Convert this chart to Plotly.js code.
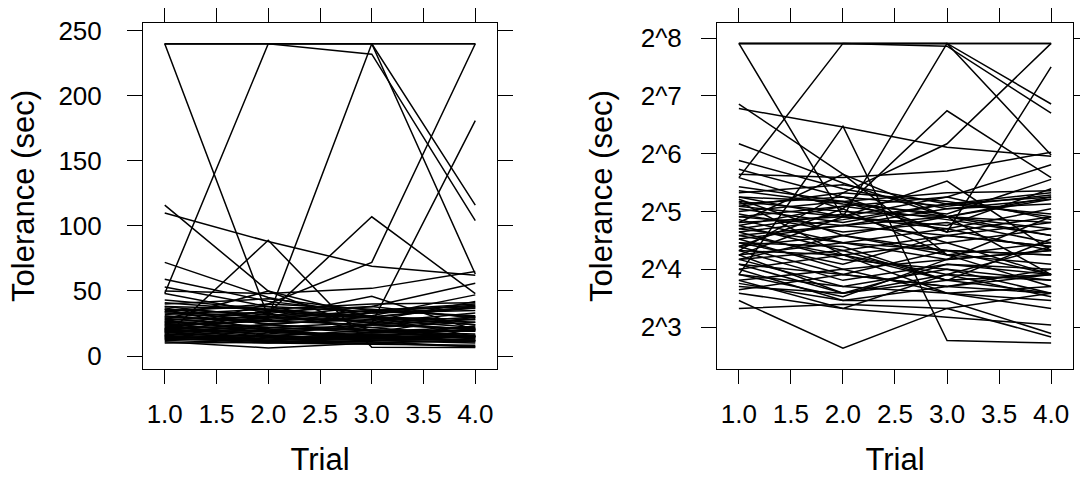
<!DOCTYPE html>
<html>
<head>
<meta charset="utf-8">
<script src="https://cdn.plot.ly/plotly-3.0.1.min.js"></script>
<style>html,body{margin:0;padding:0;background:#fff;}#chart{width:1080px;height:479px;}</style>
</head>
<body>
<div id="chart"></div>
<script>
// Trial numbers
var trials = [1, 2, 3, 4];
// Tolerance (sec) per subject at each trial
var trial1 = [240, 240, 240, 48, 240, 110, 15, 116, 72, 59, 53, 50, 48, 43, 11, 12, 13.5, 10, 20, 34,
  38, 36, 35, 33, 32, 31, 30, 29, 28, 27, 26, 25, 24, 23, 22, 22, 21, 21, 20, 20,
  19, 19, 18, 18, 17, 17, 16, 16, 15, 15, 14, 14, 13, 12.5, 38, 40, 37, 34, 30, 27,
  25, 24, 23, 36, 19, 28, 21, 41, 18, 26];
var trial2 = [240, 240, 30, 240, 240, 88, 89, 50, 45, 42, 38, 48, 33, 36, 6.2, 10, 11, 10.5, 40, 30,
  36, 32, 38, 28, 36, 25, 34, 22, 30, 20, 31, 18, 27, 16, 21, 17, 15, 24, 14, 19,
  12, 22, 13, 20, 12, 15, 11, 19, 13, 11.5, 16, 10, 12, 15, 30, 44, 24, 40, 27, 34,
  29, 19, 27, 19, 30, 50, 33, 35, 24, 22];
var trial3 = [240, 240, 240, 232, 240, 69, 6.8, 19, 30, 33, 25, 52, 107, 25, 10, 9, 11, 10, 72, 38,
  40, 30, 34, 35, 30, 28, 38, 20, 26, 24, 22, 16, 30, 18, 14, 24, 13, 19, 17, 15,
  14, 26, 16, 14, 15, 20, 13, 22, 12, 18, 12, 15, 17, 13, 27, 35, 20, 36, 33, 29,
  35, 12, 24, 14, 46, 30, 19, 31, 30, 18];
var trial4 = [240, 240, 63, 104, 116, 62, 6.6, 17, 28, 35, 30, 65, 48, 181, 12, 8.2, 7.4, 7.1, 240, 56,
  41, 37, 39, 31, 38, 22, 29, 19, 33, 21, 15, 14, 26, 20, 15, 21, 12, 22, 16, 21,
  15, 20, 12, 23, 14, 19, 15, 26, 11, 20, 13, 11.5, 15, 16, 42, 40, 15, 30, 37, 24,
  38, 10, 28, 12, 20, 24, 13, 47, 15, 30];

var traces = [];
for (var i = 0; i < trial1.length; i++) {
  var ys = [trial1[i], trial2[i], trial3[i], trial4[i]];
  ['x', 'x2'].forEach(function (xa, k) {
    traces.push({
      x: trials, y: ys, type: 'scatter', mode: 'lines',
      xaxis: xa, yaxis: k === 0 ? 'y' : 'y2',
      line: {color: '#000', width: 1.5}, hoverinfo: 'skip', showlegend: false
    });
  });
}

var FONT = 'Liberation Sans, Arial, Helvetica, sans-serif';
function xax(dom, anchor) {
  return {
    domain: dom, anchor: anchor, range: [0.79, 4.21],
    tickvals: [1, 1.5, 2, 2.5, 3, 3.5, 4],
    ticktext: ['1.0', '1.5', '2.0', '2.5', '3.0', '3.5', '4.0'],
    ticks: 'outside', ticklen: 14, tickwidth: 1, tickcolor: '#000',
    showline: true, linecolor: '#000', linewidth: 1, mirror: 'ticks',
    showgrid: false, zeroline: false, ticklabelstandoff: 8,
    tickfont: {family: FONT, size: 26, color: '#000'},
    title: {text: 'Trial', font: {family: FONT, size: 31, color: '#000'}, standoff: 20}
  };
}
var layout = {
  width: 1080, height: 479,
  margin: {l: 0, r: 0, t: 0, b: 0},
  paper_bgcolor: '#fff', plot_bgcolor: '#fff',
  showlegend: false,
  xaxis: xax([0.1324, 0.4602], 'y'),
  xaxis2: xax([0.6639, 0.9935], 'y2'),
  yaxis: {
    domain: [0.2296, 0.952], anchor: 'x', range: [-10, 256],
    tickvals: [0, 50, 100, 150, 200, 250],
    ticks: 'outside', ticklen: 15, tickwidth: 1, tickcolor: '#000',
    showline: true, linecolor: '#000', linewidth: 1, mirror: 'ticks',
    showgrid: false, zeroline: false, ticklabelstandoff: 20,
    tickfont: {family: FONT, size: 26, color: '#000'},
    title: {text: 'Tolerance (sec)', font: {family: FONT, size: 31, color: '#000'}, standoff: 14}
  },
  yaxis2: {
    domain: [0.2296, 0.952], anchor: 'x2', type: 'log', range: [0.6843, 2.4865],
    tickvals: [8, 16, 32, 64, 128, 256],
    ticktext: ['2^3', '2^4', '2^5', '2^6', '2^7', '2^8'],
    ticks: 'outside', ticklen: 15, tickwidth: 1, tickcolor: '#000',
    showline: true, linecolor: '#000', linewidth: 1, mirror: 'ticks',
    showgrid: false, zeroline: false, ticklabelstandoff: 14,
    tickfont: {family: FONT, size: 26, color: '#000'},
    title: {text: 'Tolerance (sec)', font: {family: FONT, size: 31, color: '#000'}, standoff: 18}
  }
};
Plotly.newPlot('chart', traces, layout, {displayModeBar: false, staticPlot: true});
</script>
</body>
</html>
